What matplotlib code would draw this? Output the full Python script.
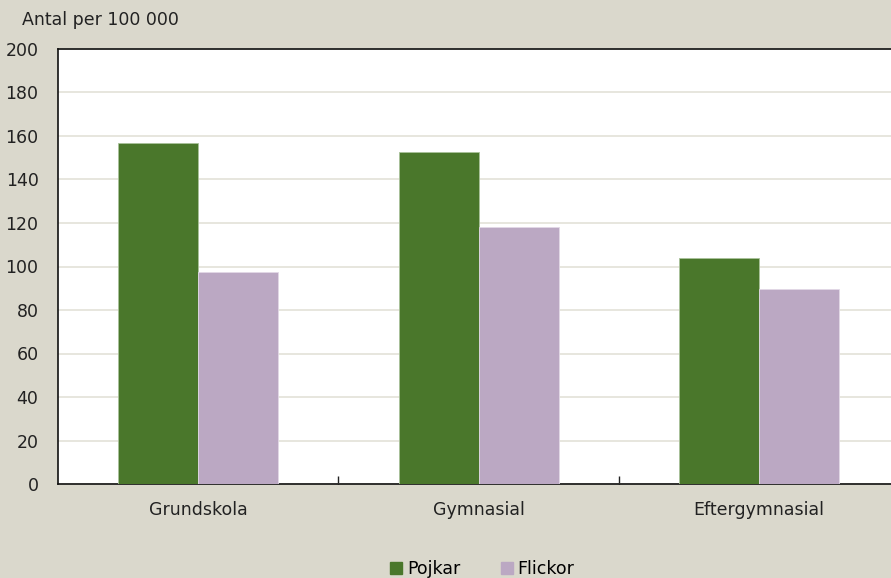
import matplotlib.pyplot as plt
import numpy as np
from matplotlib.lines import Line2D

plt.rcParams['font.family'] = ['DejaVu Sans']

categories = ["Grundskola", "Gymnasial", "Eftergymnasial"]
pojkar = [156.6, 152.8, 104.0]
flickor = [97.3, 118.0, 89.7]
yticks = [0, 20, 40, 60, 80, 100, 120, 140, 160, 180, 200]

bg = "#DAD8CC"
green = "#4A772B"
purple = "#BBA8C3"

fig = plt.figure(figsize=(8.91, 5.78), dpi=100, facecolor=bg)
ax = fig.add_axes([58/891, 1-484/578, (899.5-58)/891, (484-49)/578])
ax.set_facecolor("white")

x = np.arange(len(categories))
w = 0.285
ax.bar(x - w/2, pojkar, w, color=green, edgecolor="#A9C29A", linewidth=0.6, zorder=3)
ax.bar(x + w/2, flickor, w, color=purple, edgecolor="#E2D8E6", linewidth=0.6, zorder=3)

ax.set_xlim(-0.5, len(categories) - 0.5)
ax.set_ylim(0, 200)
ax.set_yticks(yticks)
ax.tick_params(axis="y", length=0, labelsize=12.5, pad=14, colors="#222222")
ax.yaxis.grid(True, color="#E3E1D8", linewidth=1.2, zorder=0)

ax.set_xticks(x)
ax.set_xticklabels(categories, fontsize=12.5, color="#222222")
ax.tick_params(axis="x", length=0, pad=12)
ax.set_xticks(np.arange(len(categories)) + 0.5, minor=True)
ax.tick_params(axis="x", which="minor", direction="in", length=6, width=1, color="#222222")

for s in ["left", "bottom", "top"]:
    ax.spines[s].set_color("#111111")
    ax.spines[s].set_linewidth(1.2)
ax.spines["right"].set_visible(False)

fig.text(22/891, 1-20/578, "Antal per 100 000", fontsize=12.5, color="#222222", va="center")

handles = [Line2D([], [], marker="s", linestyle="", markersize=8, color=green),
           Line2D([], [], marker="s", linestyle="", markersize=8, color=purple)]
fig.legend(handles, ["Pojkar", "Flickor"], loc="center", bbox_to_anchor=(481/891, 1-569/578),
           ncol=2, frameon=False, fontsize=12.5, handletextpad=0.1, columnspacing=2.2,
           handlelength=1.0)

fig.savefig("out.png", dpi=100, facecolor=bg)
